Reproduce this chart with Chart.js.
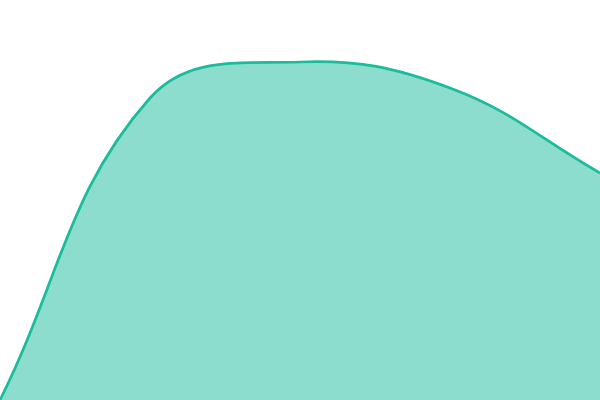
<!DOCTYPE html>
<html>
<head>
<meta charset="utf-8">
<script src="https://cdn.jsdelivr.net/npm/chart.js@4"></script>
<style>
  html, body { margin: 0; padding: 0; background: #fff; }
  #wrap { width: 600px; height: 400px; }
</style>
</head>
<body>
<div id="wrap"><canvas id="area_chart"></canvas></div>
<script>
const categories = ["A", "B", "C", "D", "E"];
const seriesValues = [0, 302, 338, 312, 227];

new Chart(document.getElementById("area_chart"), {
    type: "line",
    data: {
        labels: categories,
        datasets: [{
            data: seriesValues,
            borderColor: "#1ABC9C",
            backgroundColor: "rgba(26, 188, 156, 0.5)",
            borderWidth: 2.75,
            fill: "origin",
            tension: 0.4,
            pointRadius: 0,
        }],
    },
    options: {
        responsive: true,
        maintainAspectRatio: false,
        animation: false,
        layout: { padding: 0 },
        plugins: {
            legend: { display: false },
            tooltip: { enabled: false },
        },
        scales: {
            x: { display: false },
            y: { display: false, min: 0, max: 400 },
        },
    },
});
</script>
</body>
</html>
